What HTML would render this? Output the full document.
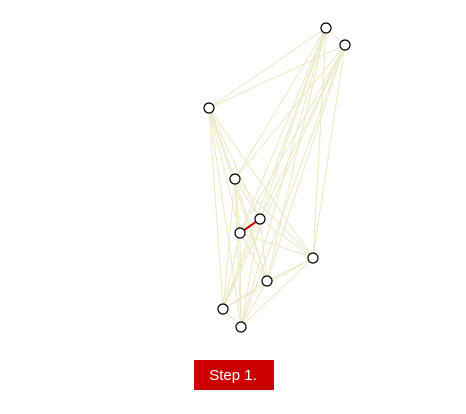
<!DOCTYPE html>
<html><head><style>
body{margin:0;background:#fff;}
svg{display:block}
</style></head><body>
<svg id="chart" width="466" height="414" xmlns="http://www.w3.org/2000/svg">
<g id="edges"></g>
<g id="nodes"></g>
<rect x="194" y="360" width="80" height="30" fill="#cc0000"/>
<text x="233" y="380" text-anchor="middle" fill="#fff" font-family="Liberation Sans, sans-serif" font-size="15">Step 1.</text>
</svg>
<script>
const nodeX=[326,345,209,235,260,240,313,267,223,241];
const nodeY=[28,45,108,179,219,233,258,281,309,327];
const highlightEdge=[4,5];
const ns="http://www.w3.org/2000/svg";
const eg=document.getElementById('edges'),ng=document.getElementById('nodes');
for(let i=0;i<nodeX.length;i++)for(let j=i+1;j<nodeX.length;j++){
 const l=document.createElementNS(ns,'line');
 
 
 l.setAttribute('x1',nodeX[i]);l.setAttribute('y1',nodeY[i]);
 l.setAttribute('x2',nodeX[j]);l.setAttribute('y2',nodeY[j]);
 const hi=(i===highlightEdge[0]&&j===highlightEdge[1]);
 l.setAttribute('stroke',hi?'#cc0000':'#ebe8c6');
 l.setAttribute('stroke-width',hi?2:1);
 eg.appendChild(l);
}
for(let i=0;i<nodeX.length;i++){
 const c=document.createElementNS(ns,'circle');
 
 
 c.setAttribute('cx',nodeX[i]);c.setAttribute('cy',nodeY[i]);c.setAttribute('r',5);
 c.setAttribute('fill','#fff');c.setAttribute('stroke','#000');c.setAttribute('stroke-width',1.2);
 ng.appendChild(c);
}
</script>
</body></html>
